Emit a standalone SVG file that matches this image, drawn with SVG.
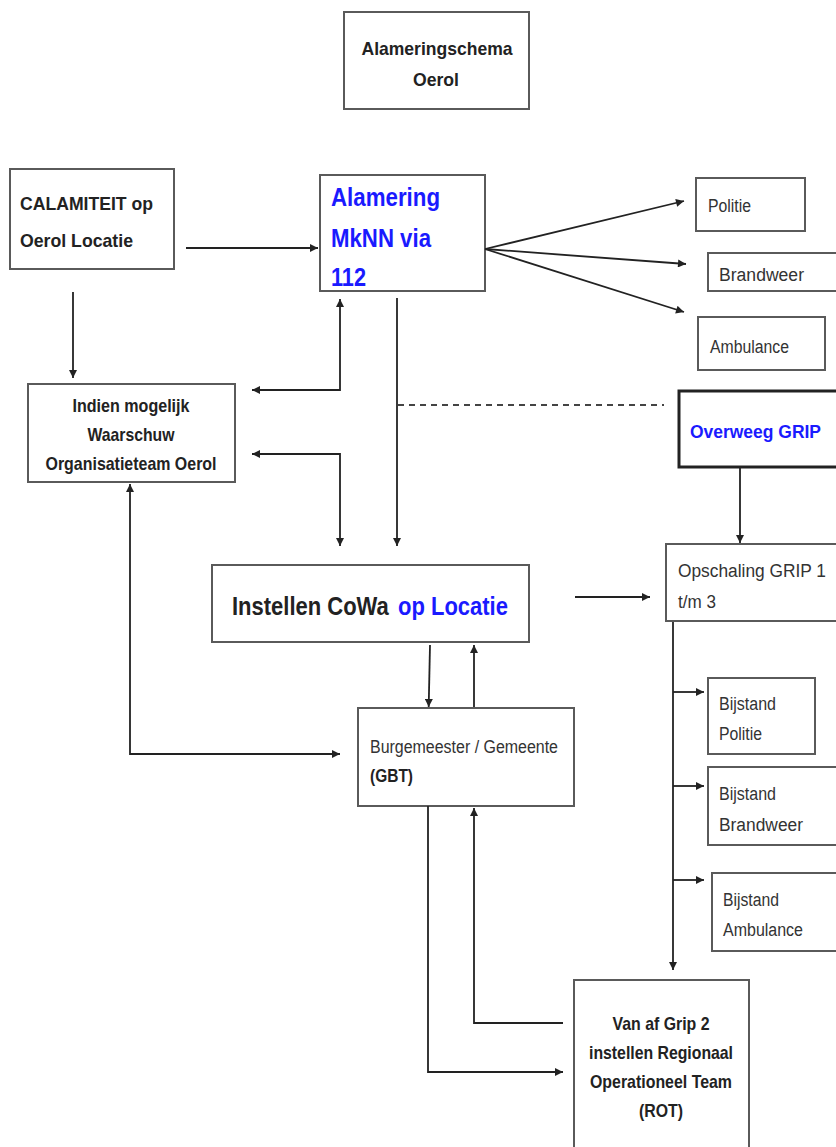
<svg xmlns="http://www.w3.org/2000/svg" width="836" height="1147" viewBox="0 0 836 1147">
<style>
.box{fill:#fff;stroke:#5a5a5a;stroke-width:2}
.thick{fill:#fff;stroke:#222;stroke-width:3}
.b{font-family:"Liberation Sans",Arial,sans-serif;font-weight:bold;font-size:19px;fill:#222}
.r{font-family:"Liberation Sans",Arial,sans-serif;font-size:18px;fill:#333}
.blue{fill:#1a1aff}
.big{font-size:26px}
.cw{font-size:22px}
.ln{fill:none;stroke:#222;stroke-width:1.8}
.dash{fill:none;stroke:#444;stroke-width:1.8;stroke-dasharray:6 5}
</style>
<defs>
<marker id="ah" viewBox="0 0 10 10" refX="10" refY="5" markerWidth="10" markerHeight="8" markerUnits="userSpaceOnUse" orient="auto">
<path d="M0,0 L10,5 L0,10 z" fill="#222"/>
</marker>
<marker id="as" viewBox="0 0 10 10" refX="0" refY="5" markerWidth="10" markerHeight="8" markerUnits="userSpaceOnUse" orient="auto">
<path d="M10,0 L0,5 L10,10 z" fill="#222"/>
</marker>
</defs>
<rect width="836" height="1147" fill="#fff"/>

<g id="title">
<rect class="box" x="344" y="12" width="185" height="97"/>
<text class="b" x="437" y="55" text-anchor="middle" textLength="151" lengthAdjust="spacingAndGlyphs">Alameringschema</text>
<text class="b" x="436" y="86" text-anchor="middle" textLength="46" lengthAdjust="spacingAndGlyphs">Oerol</text>
</g>

<g id="calamiteit">
<rect class="box" x="10" y="169" width="164" height="100"/>
<text class="b" x="20" y="210" textLength="133" lengthAdjust="spacingAndGlyphs">CALAMITEIT op</text>
<text class="b" x="20" y="247" textLength="113" lengthAdjust="spacingAndGlyphs">Oerol Locatie</text>
</g>

<g id="alamering">
<rect class="box" x="320" y="175" width="165" height="116"/>
<text class="b blue big" x="331" y="206" textLength="109" lengthAdjust="spacingAndGlyphs">Alamering</text>
<text class="b blue big" x="331" y="247" textLength="100" lengthAdjust="spacingAndGlyphs">MkNN via</text>
<text class="b blue big" x="331" y="286" textLength="35" lengthAdjust="spacingAndGlyphs">112</text>
</g>

<g id="politie">
<rect class="box" x="696" y="178" width="109" height="53"/>
<text class="r" x="708" y="212" textLength="43" lengthAdjust="spacingAndGlyphs">Politie</text>
</g>

<g id="brandweer">
<rect class="box" x="708" y="253" width="130" height="38"/>
<text class="r" x="719" y="281" textLength="85" lengthAdjust="spacingAndGlyphs">Brandweer</text>
</g>

<g id="ambulance">
<rect class="box" x="698" y="317" width="127" height="53"/>
<text class="r" x="710" y="353" textLength="79" lengthAdjust="spacingAndGlyphs">Ambulance</text>
</g>

<g id="indien">
<rect class="box" x="28" y="384" width="207" height="98"/>
<text class="b" x="131" y="412" text-anchor="middle" textLength="117" lengthAdjust="spacingAndGlyphs">Indien mogelijk</text>
<text class="b" x="131" y="441" text-anchor="middle" textLength="87" lengthAdjust="spacingAndGlyphs">Waarschuw</text>
<text class="b" x="131" y="470" text-anchor="middle" textLength="171" lengthAdjust="spacingAndGlyphs">Organisatieteam Oerol</text>
</g>

<g id="overweeg">
<rect class="thick" x="679" y="391" width="160" height="76"/>
<text class="b blue" x="690" y="438" textLength="131" lengthAdjust="spacingAndGlyphs">Overweeg GRIP</text>
</g>

<g id="opschaling">
<rect class="box" x="666" y="544" width="172" height="77"/>
<text class="r" x="678" y="577" textLength="148" lengthAdjust="spacingAndGlyphs">Opschaling GRIP 1</text>
<text class="r" x="678" y="608" textLength="38" lengthAdjust="spacingAndGlyphs">t/m 3</text>
</g>

<g id="cowa">
<rect class="box" x="212" y="565" width="317" height="77"/>
<text class="b cw" transform="translate(232,615) scale(1,1.18)" x="0" y="0">Instellen CoWa</text>
<text class="b cw blue" transform="translate(398,615) scale(1,1.18)" x="0" y="0">op Locatie</text>
</g>

<g id="burgemeester">
<rect class="box" x="358" y="708" width="216" height="98"/>
<text class="r" x="370" y="753" textLength="188" lengthAdjust="spacingAndGlyphs">Burgemeester / Gemeente</text>
<text class="b" x="370" y="782" textLength="43" lengthAdjust="spacingAndGlyphs">(GBT)</text>
</g>

<g id="bijstand-politie">
<rect class="box" x="708" y="678" width="107" height="76"/>
<text class="r" x="719" y="710" textLength="57" lengthAdjust="spacingAndGlyphs">Bijstand</text>
<text class="r" x="719" y="740" textLength="43" lengthAdjust="spacingAndGlyphs">Politie</text>
</g>

<g id="bijstand-brandweer">
<rect class="box" x="708" y="767" width="130" height="78"/>
<text class="r" x="719" y="800" textLength="57" lengthAdjust="spacingAndGlyphs">Bijstand</text>
<text class="r" x="719" y="831" textLength="84" lengthAdjust="spacingAndGlyphs">Brandweer</text>
</g>

<g id="bijstand-ambulance">
<rect class="box" x="712" y="873" width="126" height="78"/>
<text class="r" x="723" y="906" textLength="56" lengthAdjust="spacingAndGlyphs">Bijstand</text>
<text class="r" x="723" y="936" textLength="80" lengthAdjust="spacingAndGlyphs">Ambulance</text>
</g>

<g id="rot">
<rect class="box" x="574" y="980" width="175" height="180"/>
<text class="b" x="661" y="1030" text-anchor="middle" textLength="97" lengthAdjust="spacingAndGlyphs">Van af Grip 2</text>
<text class="b" x="661" y="1059" text-anchor="middle" textLength="144" lengthAdjust="spacingAndGlyphs">instellen Regionaal</text>
<text class="b" x="661" y="1088" text-anchor="middle" textLength="142" lengthAdjust="spacingAndGlyphs">Operationeel Team</text>
<text class="b" x="661" y="1117" text-anchor="middle" textLength="44" lengthAdjust="spacingAndGlyphs">(ROT)</text>
</g>

<g id="connectors">
<path class="ln" d="M186,248 L318,248" marker-end="url(#ah)"/>
<path class="ln" d="M73,292 L73,378" marker-end="url(#ah)"/>
<path class="ln" d="M485,249 L684,201" marker-end="url(#ah)" stroke-width="2.2"/>
<path class="ln" d="M485,249 L686,264" marker-end="url(#ah)" stroke-width="2.2"/>
<path class="ln" d="M485,249 L684,312" marker-end="url(#ah)" stroke-width="2.2"/>
<path class="ln" d="M340,299 L340,390 L252,390" marker-start="url(#as)" marker-end="url(#ah)"/>
<path class="ln" d="M252,454 L340,454 L340,546" marker-start="url(#as)" marker-end="url(#ah)"/>
<path class="ln" d="M397,298 L397,546" marker-end="url(#ah)"/>
<path class="dash" d="M398,405 L664,405"/>
<path class="ln" d="M740,467 L740,543" marker-end="url(#ah)"/>
<path class="ln" d="M575,597 L650,597" marker-end="url(#ah)"/>
<path class="ln" d="M430,645 L428.7,707" marker-end="url(#ah)"/>
<path class="ln" d="M474,707 L474,645" marker-end="url(#ah)"/>
<path class="ln" d="M130,484 L130,754 L340,754" marker-start="url(#as)" marker-end="url(#ah)"/>
<path class="ln" d="M673,622 L673,970" marker-end="url(#ah)"/>
<path class="ln" d="M673,692 L704,692" marker-end="url(#ah)"/>
<path class="ln" d="M673,786 L704,786" marker-end="url(#ah)"/>
<path class="ln" d="M673,880 L704,880" marker-end="url(#ah)"/>
<path class="ln" d="M428,806 L428,1072 L563,1072" marker-end="url(#ah)"/>
<path class="ln" d="M563,1023 L474,1023 L474,808" marker-end="url(#ah)"/>
</g>
</svg>
